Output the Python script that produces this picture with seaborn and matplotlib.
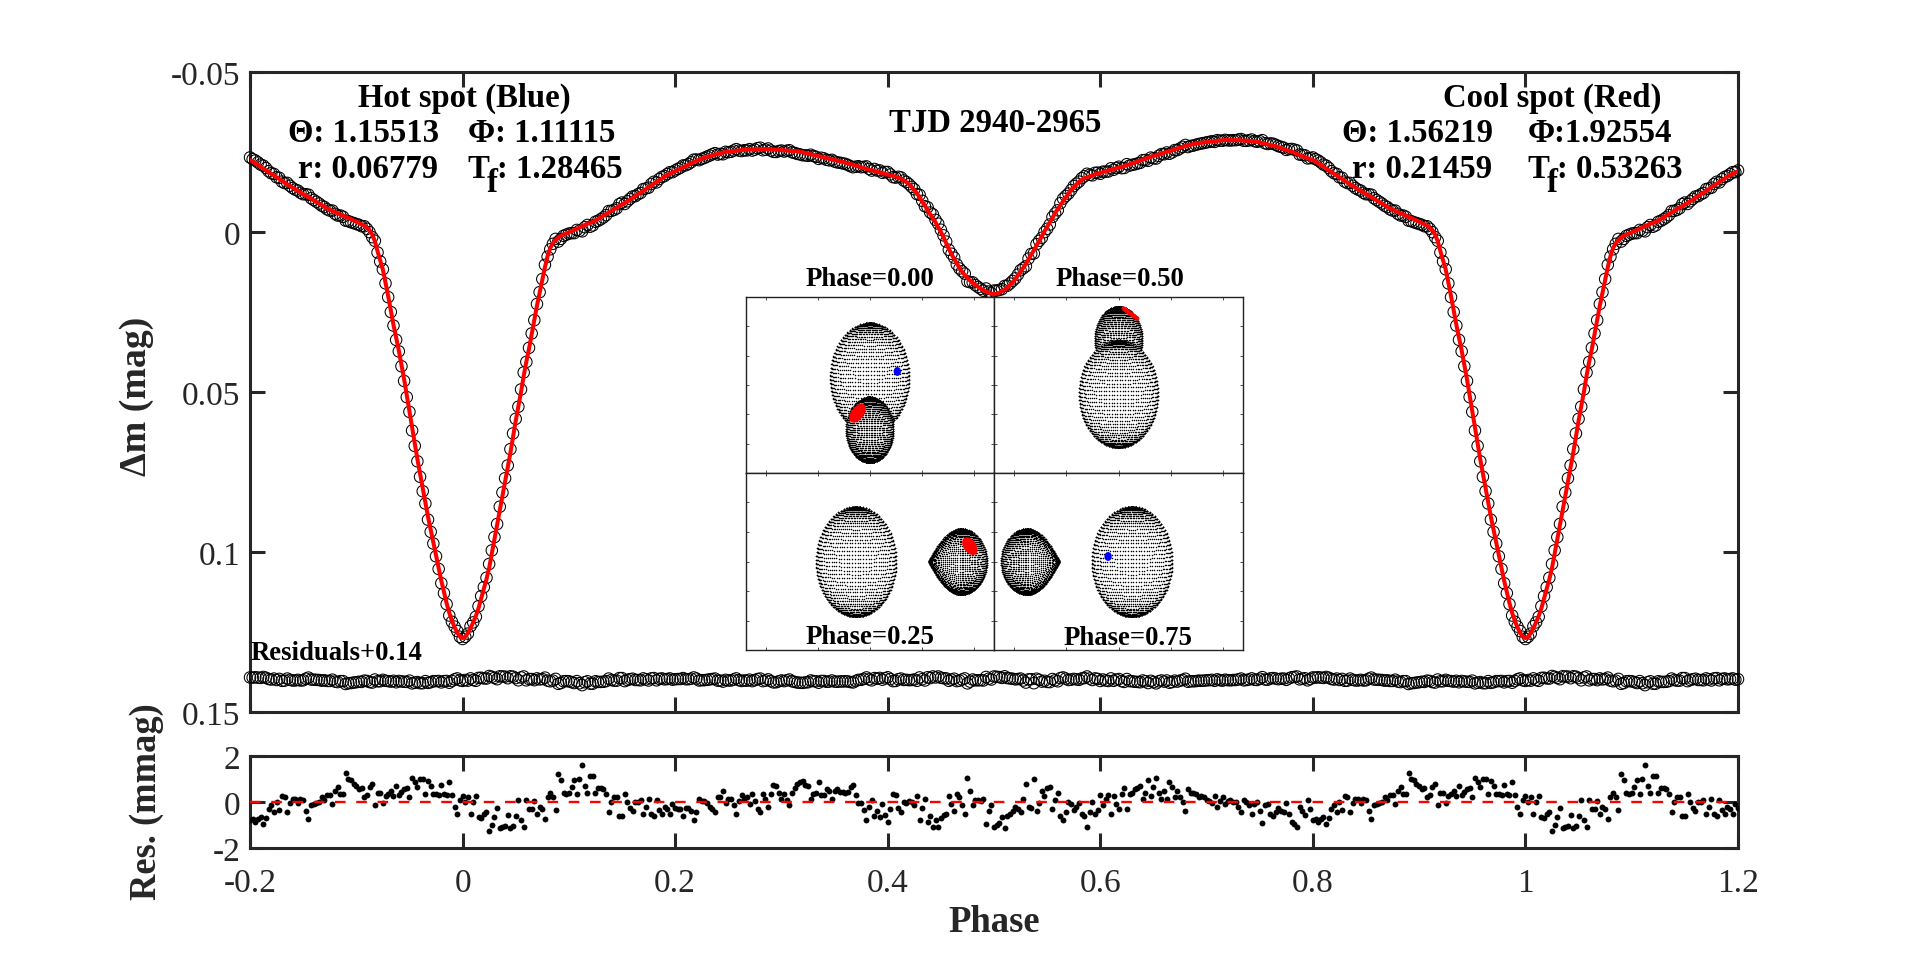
import numpy as np
import matplotlib
matplotlib.use("Agg")
import matplotlib.pyplot as plt
from matplotlib.patches import Ellipse
import seaborn as sns

# model light curve over one cycle, phase step 0.0025 (mmag)
model_mmag = [
    126.9,126.5,125.3,123.7,122,120,117.6,114.5,111.5,108.5,105,100.5,96,91.5,87,82.5,78,73.5,69,64,
    59,54.5,50,45,40.5,36.5,32,27.5,23,19,15,11,7.5,5,3.5,2.5,1.8,1.2,.8,.5,
    .1,-.3,-.6,-1,-1.4,-1.8,-2.2,-2.6,-2.8,-3.2,-3.6,-4.1,-4.6,-5.1,-5.6,-6.1,-6.6,-7.1,-7.6,-8.1,
    -8.6,-9.1,-9.6,-10.1,-10.7,-11.2,-11.8,-12.3,-12.9,-13.4,-14,-14.5,-15.1,-15.6,-16.2,-16.7,-17.3,-17.8,-18.2,-18.6,
    -19,-19.4,-19.8,-20.2,-20.6,-21,-21.4,-21.8,-22.2,-22.6,-22.9,-23.2,-23.5,-23.7,-24,-24.2,-24.4,-24.6,-24.8,-25,
    -25.1,-25.2,-25.3,-25.4,-25.5,-25.6,-25.7,-25.7,-25.8,-25.8,-25.8,-25.9,-25.9,-25.9,-25.9,-25.9,-25.8,-25.8,-25.7,-25.7,
    -25.6,-25.5,-25.5,-25.4,-25.3,-25.3,-25.2,-25.1,-24.9,-24.7,-24.5,-24.3,-24.1,-23.9,-23.7,-23.5,-23.3,-23.1,-22.9,-22.7,
    -22.5,-22.3,-22.1,-21.9,-21.7,-21.4,-21.2,-21,-20.7,-20.5,-20.2,-20,-19.7,-19.5,-19.3,-19.1,-18.8,-18.6,-18.4,-18.2,
    -17.9,-17.7,-17.5,-17.3,-17,-16.6,-16.1,-15.6,-15,-14.1,-13.2,-12.1,-10.8,-9.5,-8.2,-6.9,-5.5,-4.4,-3,-1.5,
    0,1.6,3.5,5.3,6.9,8.4,9.8,11.2,12.4,13.5,14.4,15.2,15.9,16.5,17.1,17.7,18.2,18.6,19,19.3,
    19.4,19.3,19,18.5,18,17.4,16.6,15.7,14.7,13.6,12.4,11.2,9.9,8.5,7.1,5.7,4.2,2.8,1.3,-.2,
    -1.6,-3,-4.4,-5.9,-7.2,-8.4,-9.6,-10.8,-12,-13,-14,-14.9,-15.7,-16.3,-16.8,-17.1,-17.4,-17.7,-18,-18.2,
    -18.5,-18.7,-19,-19.2,-19.4,-19.7,-19.9,-20.1,-20.3,-20.6,-20.9,-21.1,-21.4,-21.7,-22,-22.3,-22.6,-22.9,-23.2,-23.5,
    -23.7,-24,-24.2,-24.5,-24.8,-25,-25.3,-25.5,-25.8,-26.1,-26.3,-26.6,-26.8,-27.1,-27.3,-27.4,-27.6,-27.7,-27.9,-28,
    -28.1,-28.2,-28.3,-28.4,-28.5,-28.6,-28.7,-28.7,-28.7,-28.7,-28.7,-28.7,-28.7,-28.6,-28.6,-28.5,-28.5,-28.4,-28.3,-28.2,
    -28,-27.8,-27.6,-27.4,-27.2,-27,-26.8,-26.6,-26.2,-25.9,-25.6,-25.4,-25.1,-24.8,-24.4,-24,-23.7,-23.4,-23.1,-22.8,
    -22.5,-22,-21.5,-21,-20.4,-19.8,-19.3,-18.7,-18.2,-17.7,-17.1,-16.6,-16,-15.5,-14.9,-14.4,-13.9,-13.4,-12.9,-12.4,
    -11.9,-11.4,-10.9,-10.4,-9.9,-9.4,-8.9,-8.4,-7.9,-7.4,-7,-6.6,-6.2,-5.8,-5.5,-5.1,-4.8,-4.4,-4,-3.6,
    -3.2,-2.8,-2.4,-2,-1.3,-.6,.8,2.9,6,8.8,11.7,15.8,20,24.5,29,33,37,41.5,46,51,
    56,61,66,71,75.5,80,84.5,89,93,97,101,105,109,112.5,116,119,121.5,123.5,125.2,126.4,
]

# residuals at the same phases (mmag)
res_mmag = [
    .28,0,.2,-.5,0,.25,-.65,-.7,-.5,-.45,-1.25,-1,-.65,-.25,-1.15,-1.1,-1.05,-.55,-1.15,-1.05,
    -.6,.1,-.8,-1.1,.1,-.3,-.3,.05,-.5,-.2,-.3,-.75,.2,.4,.2,-.35,1.2,.95,.4,.35,
    .4,.65,.95,.35,1,1.6,.7,.4,1.15,1.15,.4,.6,.6,.55,.35,-.45,0,.2,.2,-.6,
    -.6,.35,0,-.25,-.4,0,0,.1,-.5,-.2,.15,-.5,-.6,.1,-.35,-.5,-.2,-.3,-.5,-.1,
    -.25,-.3,-.3,-.6,-.25,-.25,-.4,-.8,-.45,.15,.05,.05,-.05,-.2,-.3,-.45,.2,.2,.5,-.05,
    .15,.15,-.15,-.5,.05,.3,.15,.2,-.1,.35,.05,-.3,-.45,.35,.15,-.2,.35,.75,.7,.4,
    .15,.35,.1,-.15,.4,.6,.8,.85,.9,.75,.7,.15,.35,.4,.85,.3,.3,.55,.5,.15,
    .5,.55,.45,.45,.4,.45,.65,.75,.3,-.05,-.05,-.35,-.8,-.2,.1,-.6,-.4,-.65,-.1,-.55,
    -.85,-.3,.35,.3,-.25,-.45,0,-.05,.05,0,-.15,.25,-.8,-.25,.15,-.85,-.6,-1.1,-.8,-1.1,
    -.7,-.55,-.5,.25,-.1,-.4,.35,.2,-.15,-.5,1.05,.5,-.15,.1,.1,.05,.15,-.95,-.4,-.15,
    -1.1,-1,-.9,-.65,-1.15,-.6,-.5,-.4,-.2,-.3,-.45,.15,.8,-.2,-.25,1,-.4,-.05,.5,.25,
    .6,.65,-.3,.1,.4,-.6,-.8,-.45,0,-.1,-.35,-.2,-.05,-.5,-.6,-1.1,-.45,0,-.5,-.35,
    .3,-.15,.15,.3,-.5,.25,-.1,-.3,.35,.6,-.3,.35,.4,.55,.6,.7,.15,.4,.95,.25,
    .65,1.05,.4,.15,.5,.15,.85,.65,.2,.5,.2,0,-.4,.55,.4,.4,.35,.2,.25,.2,
    .1,.05,-.05,.25,-.2,.05,.2,-.1,.05,.1,0,0,-.2,-.45,.1,0,-.15,-.5,-.1,0,
    -.4,-.9,-.15,-.1,-.5,-.6,-.45,-.25,-.4,-.45,-.05,-.5,-.85,-.95,-1.1,-.2,-.4,-.55,.1,-.3,
    -.8,-.75,-.85,-.75,-.65,-.95,-.7,-.3,-.15,-.45,0,-.35,.25,.2,-.45,-.05,.15,.15,-.05,.15,
    .1,-.4,-.75,-.15,-.1,-.05,0,.2,.1,.3,.3,-.1,.5,.65,.35,.35,1.25,1,.95,.8,
    .7,.55,.6,.2,.3,.65,.8,-.15,.4,.4,-.05,.25,.35,.5,.25,.7,.3,.45,.55,.6,
    .2,1.05,.85,.65,1,1,.35,.9,.7,.35,.35,.3,.75,.35,.3,.85,.3,-.2,-.5,.1,
]

x_ticks = [-0.2, 0, 0.2, 0.4, 0.6, 0.8, 1, 1.2]
x_tick_labels = ["-0.2", "0", "0.2", "0.4", "0.6", "0.8", "1", "1.2"]
main_y_ticks = [-0.05, 0, 0.05, 0.1, 0.15]
main_y_labels = ["-0.05", "0", "0.05", "0.1", "0.15"]
res_y_ticks = [-2, 0, 2]
res_y_labels = ["-2", "0", "2"]
residual_offset = 0.14

# stars in the small panels: x, y, x radius, y radius, pointed side (0 = none)
primary = {"p00": (0, .13, .38, .93, 0), "p50": (0, -.15, .38, .91, 0),
           "p25": (-.13, 0, .386, .93, 0), "p75": (.13, 0, .386, .93, 0)}
secondary = {"p00": (0, -.76, .228, .554, 0), "p50": (0, .78, .228, .554, 0),
             "p25": (.875, 0, .28, .554, -1), "p75": (-.875, 0, .28, .554, 1)}
# spots: panel, x, y, x radius, y radius, shear, colour
spots = [("p00", -.118, -.48, .07, .16, .25, "#ff0000"),
         ("p00", .265, .23, .035, .075, 0, "#0000ff"),
         ("p25", .963, .26, .068, .15, -.2, "#ff0000"),
         ("p75", -.1, .085, .035, .075, 0, "#0000ff")]
limb_spot = ([.05, .18], [1.3, 1.13])

W, H = 1920, 954
DARK = "#262626"

sns.set_theme(style="ticks")
plt.rcParams["font.family"] = ["Liberation Serif", "DejaVu Sans"]
plt.rcParams["axes.edgecolor"] = DARK
plt.rcParams["axes.linewidth"] = 2.2
plt.rcParams["xtick.color"] = DARK
plt.rcParams["ytick.color"] = DARK

fig = plt.figure(figsize=(W / 100, H / 100), dpi=100)


def box(left, top, right, bottom):
    return [left / W, 1 - bottom / H, (right - left) / W, (bottom - top) / H]


def label(x, y, s, size=23.6, **kw):
    kw.setdefault("ha", "center")
    kw.setdefault("weight", "bold")
    kw.setdefault("color", "black")
    fig.text(x / W, 1 - y / H, s, size=size, va="center", **kw)


def style_axes(ax, xt, yt, ylabels):
    ax.set_xticks(xt)
    ax.set_yticks(yt)
    ax.set_yticklabels(ylabels)
    ax.tick_params(direction="in", length=10.5, width=2.2, top=True, right=True,
                   labelsize=24, pad=7)
    ax.set_xlabel("")
    ax.set_ylabel("")


# one cycle repeated over the plotted phase range
cycle_phase = np.arange(len(model_mmag)) * 0.0025
model = np.array(model_mmag)
res = np.array(res_mmag)
phase = np.concatenate([cycle_phase[320:] - 1, cycle_phase, cycle_phase[:81] + 1])
model_full = np.concatenate([model[320:], model, model[:81]]) / 1000
res_full = np.concatenate([res[320:], res, res[:81]])
obs_full = model_full + res_full / 1000

ax = fig.add_axes(box(250, 73, 1738, 713))
sns.scatterplot(x=phase, y=obs_full, ax=ax, s=68, marker="o", color="none",
                edgecolor="black", linewidth=0.75, clip_on=False, zorder=3)
sns.scatterplot(x=phase, y=residual_offset + res_full / 1000, ax=ax, s=68, marker="o",
                color="none", edgecolor="black", linewidth=0.75, clip_on=False, zorder=3)
sns.lineplot(x=phase, y=model_full, ax=ax, color="#ff0000", linewidth=2.9, sort=False,
             estimator=None, errorbar=None, zorder=4)
ax.set_xlim(-0.2, 1.2)
ax.set_ylim(0.15, -0.05)
style_axes(ax, x_ticks, main_y_ticks, main_y_labels)
ax.set_xticklabels([])

ax2 = fig.add_axes(box(250, 757, 1738, 849))
sns.scatterplot(x=phase, y=res_full, ax=ax2, s=18, color="black", edgecolor="black",
                linewidth=0, zorder=3)
ax2.axhline(0, color="#ff0000", linewidth=1.7, linestyle=(0, (4.5, 4.5)), zorder=4)
ax2.set_xlim(-0.2, 1.2)
ax2.set_ylim(-2, 2)
style_axes(ax2, x_ticks, res_y_ticks, res_y_labels)
ax2.set_xticklabels(x_tick_labels)
ax2.tick_params(axis="x", pad=14)


def draw_star(ax, star, zorder):
    x0, y0, a, b, point = star
    theta = np.linspace(0.03, np.pi - 0.03, 44)
    phi = np.linspace(-np.pi / 2, np.pi / 2, 46)
    t, p = np.meshgrid(theta, phi)
    u = np.sin(t) * np.sin(p)
    v = np.cos(t) * np.cos(0.06) - np.sin(t) * np.cos(p) * np.sin(0.06)
    if point:
        # Roche lobe: taper toward the companion
        near = u * point > 0
        v = np.where(near, v * np.sqrt(np.clip(1 - u**2, 0, 1)), v)
        r = np.where(near, a * 1.1, a * 0.9)
    else:
        r = a
        ax.add_patch(Ellipse((x0, y0), 2 * a, 2 * b, facecolor="white", edgecolor="none",
                             zorder=zorder))
    sns.scatterplot(x=(x0 + r * u).ravel(), y=(y0 + b * v).ravel(), ax=ax, s=1.2, color="black",
                    linewidth=0, zorder=zorder + 0.1)


cells = {"p00": (745.5, 298, 994, 474), "p50": (994, 298, 1243, 474),
         "p25": (745.5, 474, 994, 651), "p75": (994, 474, 1243, 651)}
for name, (l, t, r, b) in cells.items():
    cell = fig.add_axes(box(l, t, r, b), zorder=2, facecolor="white")
    if name == "p50":
        draw_star(cell, secondary[name], 2)
        draw_star(cell, primary[name], 3)
    else:
        draw_star(cell, primary[name], 2)
        draw_star(cell, secondary[name], 3)
    for panel, sx, sy, sa, sb, shear, colour in spots:
        if panel == name:
            s = np.linspace(0, 2 * np.pi, 60)
            cell.fill(sx + sa * np.cos(s) + shear * sb * np.sin(s), sy + sb * np.sin(s),
                      color=colour, linewidth=0, zorder=5)
    if name == "p50":
        cell.plot(limb_spot[0], limb_spot[1], color="#ff0000", linewidth=3.2, zorder=5)
    cell.set_xlim(-1.195, 1.195)
    cell.set_ylim(-1.497, 1.497)
    cell.set_xticks([-1, -.5, 0, .5, 1])
    cell.set_yticks([-1, -.5, 0, .5, 1])
    cell.set_xticklabels([])
    cell.set_yticklabels([])
    cell.tick_params(direction="in", length=2.5, width=0.6, top=True, right=True, color="#333333")
    for spine in cell.spines.values():
        spine.set_linewidth(1.0)
        spine.set_color("#222222")

# axis titles
label(994, 923, "Phase", size=26.4, color=DARK)
label(137, 396, "\u0394m (mag)", size=27.3, rotation=90, color=DARK)
label(147, 802, "Res. (mmag)", size=26.3, rotation=90, color=DARK)

# annotations
label(464, 98, "Hot spot (Blue)")
label(288, 134, "\u0398: 1.15513", ha="left")
label(468, 134, "\u03a6: 1.11115", ha="left")
label(298, 169, "r: 0.06779", ha="left")
label(467, 169, "T", ha="left")
label(487, 184, "f", ha="left")
label(497, 169, ": 1.28465", ha="left")

label(1552, 98, "Cool spot (Red)")
label(1342, 134, "\u0398: 1.56219", ha="left")
label(1528, 134, "\u03a6:1.92554", ha="left")
label(1352, 169, "r: 0.21459", ha="left")
label(1527, 169, "T", ha="left")
label(1547, 184, "f", ha="left")
label(1557, 169, ": 0.53263", ha="left")

label(995.5, 124, "TJD 2940-2965")
label(251, 653, "Residuals+0.14", size=19.3, ha="left")
label(870, 279, "Phase=0.00", size=19.3)
label(1119.5, 279, "Phase=0.50", size=19.3)
label(870, 637, "Phase=0.25", size=19.3)
label(1128, 639, "Phase=0.75", size=19.3)

fig.savefig("out.png", dpi=100)
